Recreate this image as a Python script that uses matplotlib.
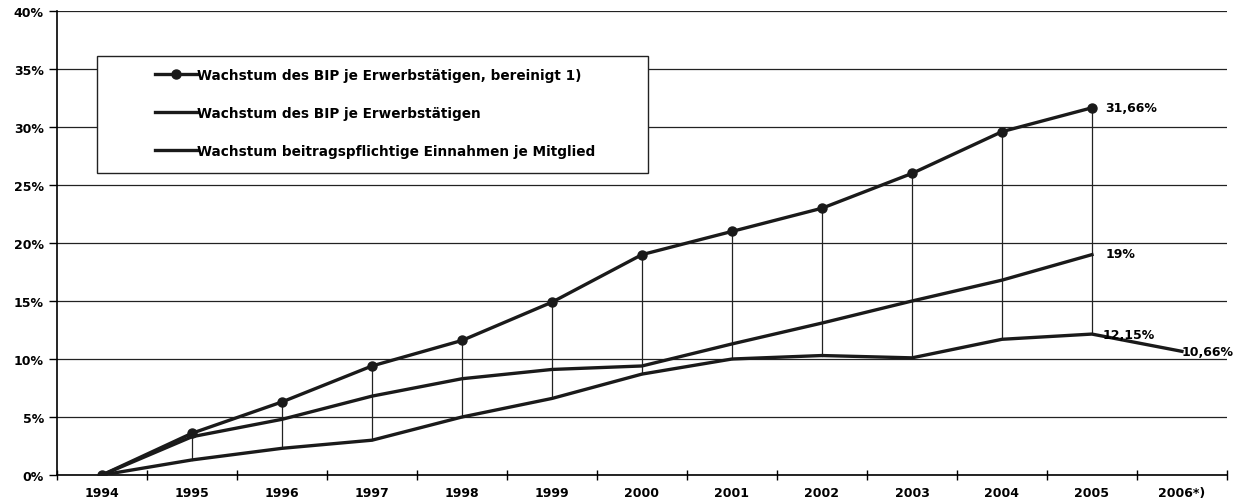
import numpy as np
import matplotlib.pyplot as plt
from matplotlib.patches import Rectangle

plt.rcParams['font.family'] = ['DejaVu Sans']
plt.rcParams['font.weight'] = 'bold'

jahre = ["1994", "1995", "1996", "1997", "1998", "1999", "2000",
         "2001", "2002", "2003", "2004", "2005", "2006*)"]
bip_bereinigt = [0, 3.6, 6.3, 9.4, 11.6, 14.9, 19.0, 21.0, 23.0, 26.0, 29.6, 31.66]
bip = [0, 3.3, 4.8, 6.8, 8.3, 9.1, 9.4, 11.3, 13.1, 15.0, 16.8, 19.0]
einnahmen = [0, 1.3, 2.3, 3.0, 5.0, 6.6, 8.7, 10.0, 10.3, 10.1, 11.7, 12.15, 10.66]

fig = plt.figure(figsize=(12.45, 5.02), dpi=100)
ax = fig.add_axes([0.0458, 0.0518, 0.9397, 0.9242])

x1 = np.arange(len(bip_bereinigt))
x2 = np.arange(len(bip))
x3 = np.arange(len(einnahmen))

# hoch-tief linien
for i in range(1, len(bip_bereinigt)):
    ax.plot([i, i], [einnahmen[i], bip_bereinigt[i]], color='#222222', lw=0.9, zorder=2)

ax.plot(x1, bip_bereinigt, color='#1a1a1a', lw=2.4, marker='o', ms=6.5,
        label="Wachstum des BIP je Erwerbstätigen, bereinigt 1)", zorder=3)
ax.plot(x2, bip, color='#1a1a1a', lw=2.4,
        label="Wachstum des BIP je Erwerbstätigen", zorder=3)
ax.plot(x3, einnahmen, color='#1a1a1a', lw=2.4,
        label="Wachstum beitragspflichtige Einnahmen je Mitglied", zorder=3)

ax.text(11.15, bip_bereinigt[-1], "31,66%", fontsize=9, va='center', ha='left')
ax.text(11.15, bip[-1] + 0.1, "19%", fontsize=9, va='center', ha='left')
ax.text(11.12, einnahmen[11], "12,15%", fontsize=9, va='center', ha='left')
ax.text(12.0, einnahmen[12], "10,66%", fontsize=9, va='center', ha='left')

ax.set_xlim(-0.5, 12.5)
ax.set_ylim(0, 40)
ax.set_yticks(np.arange(0, 41, 5))
ax.set_yticklabels([f"{v}%" for v in range(0, 41, 5)], fontsize=9)
ax.set_xticks(x3)
ax.set_xticklabels(jahre, fontsize=9)
ax.set_xticks(np.arange(-0.5, 13, 1), minor=True)
ax.tick_params(axis='x', which='major', length=0, pad=8)
ax.tick_params(axis='x', which='minor', length=7, direction='inout', width=1)
ax.tick_params(axis='y', length=6, width=1, direction='out')
ax.yaxis.grid(True, color='#222222', lw=0.9)
ax.set_axisbelow(True)
for s in ['top', 'right']:
    ax.spines[s].set_visible(False)
for s in ['left', 'bottom']:
    ax.spines[s].set_linewidth(1.2)

# legendenkasten
box = Rectangle((0.0342, 0.651), 0.4709, 0.252, transform=ax.transAxes,
                facecolor='white', edgecolor='#222222', lw=1.0, zorder=4)
ax.add_patch(box)
leg = ax.legend(loc='upper left', bbox_to_anchor=(0.0838, 0.877),
                fontsize=9.8, frameon=False, handlelength=3.1, handletextpad=0.0,
                labelspacing=1.75, borderpad=0, borderaxespad=0)
leg.set_zorder(5)

fig.savefig("out.png", dpi=100)
